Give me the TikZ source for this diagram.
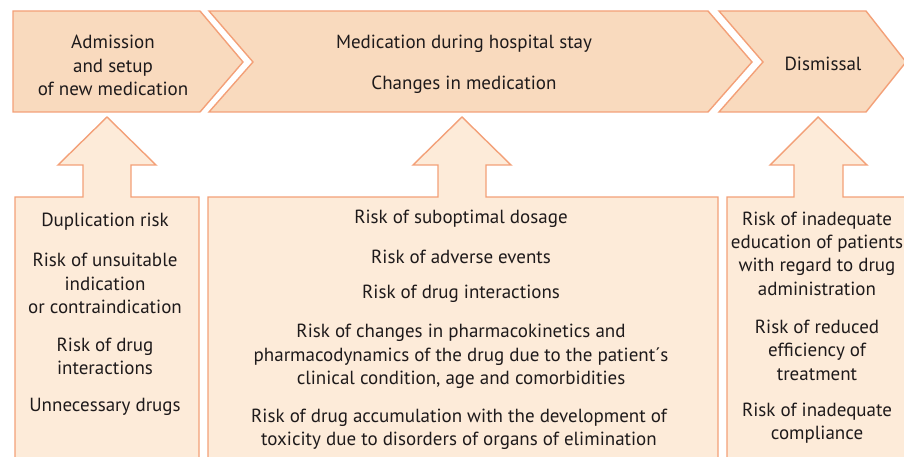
\documentclass[tikz,border=0pt]{standalone}
\usepackage{fontspec}
\setmainfont{PT Sans}
\definecolor{chevfill}{HTML}{F9DABE}
\definecolor{boxfill}{HTML}{FDEBD9}
\definecolor{edge}{HTML}{F3A078}
\definecolor{txt}{HTML}{1E1A1B}
\begin{document}
\begin{tikzpicture}[x=1pt,y=-1pt,
  chev/.style={fill=chevfill,draw=edge,line width=1.4pt,line join=miter},
  riskbox/.style={fill=boxfill,draw=edge,line width=1.4pt,line join=miter},
  lbl/.style={text=txt,align=center,inner sep=0pt,yshift=-1.5pt,font=\fontsize{19}{23.4}\selectfont}]
\useasboundingbox (0,0) rectangle (904,457);
\begin{scope}
\clip (0,0) rectangle (904,457);
% chevrons
\draw[chev] (13,11) -- (200,11) -- (243,62) -- (200,112) -- (13,112) -- cycle;
\draw[chev] (209,11) -- (708,11) -- (752,62) -- (708,112) -- (209,112) -- (253,62) -- cycle;
\draw[chev] (719,11) -- (866,11) -- (906,62) -- (866,112) -- (719,112) -- (763,62) -- cycle;
% boxes with arrows
\draw[riskbox] (15,470) -- (15,197) -- (83,197) -- (83,165) -- (58,165) -- (107,117) -- (156,165) -- (131,165) -- (131,197) -- (199,197) -- (199,470);
\draw[riskbox] (208,470) -- (208,197) -- (438,197) -- (438,165) -- (413,165) -- (462,117) -- (511,165) -- (486,165) -- (486,197) -- (718,197) -- (718,470);
\draw[riskbox] (727,470) -- (727,197) -- (794,197) -- (794,165) -- (770,165) -- (818,117) -- (867,165) -- (843,165) -- (843,197) -- (920,197) -- (920,470);
\end{scope}
% chevron labels
\node[lbl] (adm) at (113,64) {Admission\\and setup\\of new medication};
\node[lbl] (stay) at (464,42) {Medication during hospital stay};
\node[lbl] (chg) at (464,83) {Changes in medication};
\node[lbl] (dis) at (823,62) {Dismissal};
% box 1
\node[lbl] (a1) at (105,220) {Duplication risk};
\node[lbl] (a2) at (105,282) {Risk of unsuitable\\indication\\or contraindication};
\node[lbl] (a3) at (105,355) {Risk of drug\\interactions};
\node[lbl] (a4) at (105,405) {Unnecessary drugs};
% box 2
\node[lbl] (b1) at (461,217) {Risk of suboptimal dosage};
\node[lbl] (b2) at (461,255) {Risk of adverse events};
\node[lbl] (b3) at (461,292) {Risk of drug interactions};
\node[lbl] (b4) at (461,355) {Risk of changes in pharmacokinetics and\\pharmacodynamics of the drug due to the patient´s\\clinical condition, age and comorbidities};
\node[lbl] (b5) at (459,427.5) {Risk of drug accumulation with the development of\\toxicity due to disorders of organs of elimination};
% box 3
\node[lbl] (c1) at (817,252) {Risk of inadequate\\education of patients\\with regard to drug\\administration};
\node[lbl] (c2) at (817,348.5) {Risk of reduced\\efficiency of\\treatment};
\node[lbl] (c3) at (817,421.5) {Risk of inadequate\\compliance};
\end{tikzpicture}
\end{document}
